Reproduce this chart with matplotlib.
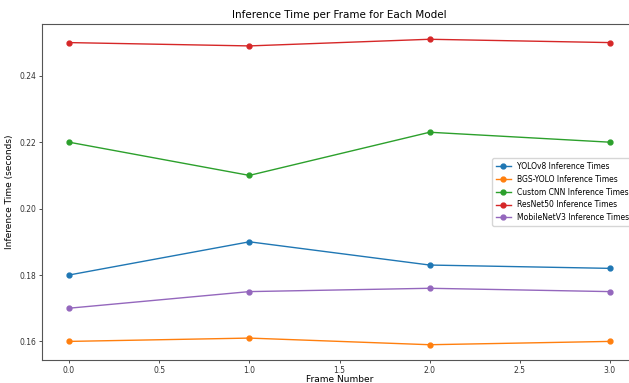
import matplotlib
matplotlib.use('Agg')
import matplotlib.pyplot as plt

frames = [0, 1, 2, 3]
yolov8 = [0.180, 0.190, 0.183, 0.182]
bgs_yolo = [0.160, 0.161, 0.159, 0.160]
custom_cnn = [0.220, 0.210, 0.223, 0.220]
resnet50 = [0.250, 0.249, 0.251, 0.250]
mobilenetv3 = [0.170, 0.175, 0.176, 0.175]

series = [
    ('YOLOv8 Inference Times', yolov8),
    ('BGS-YOLO Inference Times', bgs_yolo),
    ('Custom CNN Inference Times', custom_cnn),
    ('ResNet50 Inference Times', resnet50),
    ('MobileNetV3 Inference Times', mobilenetv3),
]

fig = plt.figure(figsize=(6.29, 3.83), dpi=100)
# axes runs past the right edge, like the cropped original
ax = fig.add_axes([42 / 629, 23 / 383, 595 / 629, 336 / 383])

for name, vals in series:
    ax.plot(frames, vals, marker='o', markersize=3.5, linewidth=1, label=name)

ax.set_title('Inference Time per Frame for Each Model', fontsize=7.5, pad=4)
ax.set_xlabel('Frame Number', fontsize=6.5, labelpad=0)
ax.set_ylabel('Inference Time (seconds)', fontsize=6.5)
ax.set_xticks([0, 0.5, 1.0, 1.5, 2.0, 2.5, 3.0])
ax.set_yticks([0.16, 0.18, 0.20, 0.22, 0.24])
ax.tick_params(labelsize=5.5, length=2.5, width=0.6, colors='#333333', pad=1.5)
for s in ax.spines.values():
    s.set_linewidth(0.8)
    s.set_color('#555555')
ax.legend(loc='center right', fontsize=5.5, handlelength=2, borderpad=0.5)

fig.savefig('out.png', dpi=100)
